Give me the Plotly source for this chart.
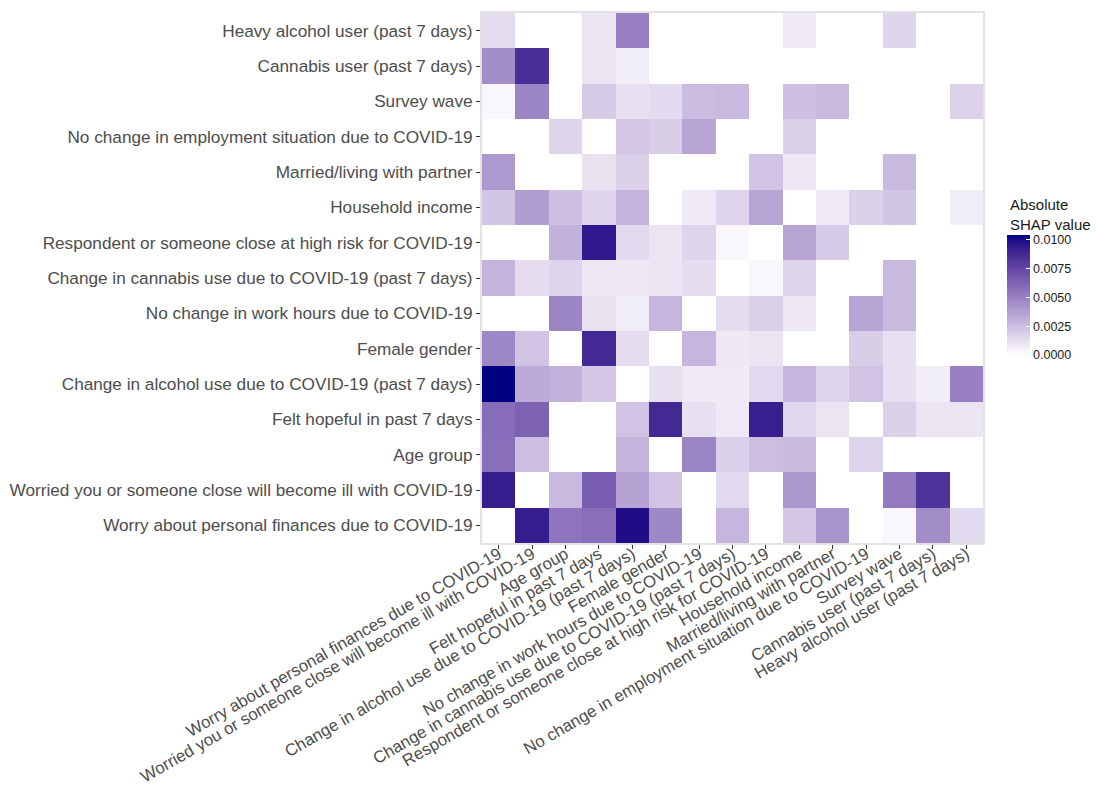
import plotly.graph_objects as go

# Feature names (same order on both axes; y runs bottom -> top)
features = [
    "Worry about personal finances due to COVID-19",
    "Worried you or someone close will become ill with COVID-19",
    "Age group",
    "Felt hopeful in past 7 days",
    "Change in alcohol use due to COVID-19 (past 7 days)",
    "Female gender",
    "No change in work hours due to COVID-19",
    "Change in cannabis use due to COVID-19 (past 7 days)",
    "Respondent or someone close at high risk for COVID-19",
    "Household income",
    "Married/living with partner",
    "No change in employment situation due to COVID-19",
    "Survey wave",
    "Cannabis user (past 7 days)",
    "Heavy alcohol user (past 7 days)",
]

# Absolute SHAP interaction values, one row per y-feature (same order as features)
shap_finances = [0, .0093, .0055, .0057, .0099, .0047, 0, .0028, 0, .0021, .0042, 0, .0003, .0045, .0014]
shap_worried_ill = [.0093, 0, .0027, .0065, .0036, .0023, 0, .0014, 0, .0041, 0, 0, .0052, .0083, 0]
shap_age = [.0057, .0025, 0, 0, .0029, 0, .0048, .0018, .0025, .0027, 0, .0016, 0, 0, 0]
shap_hopeful = [.0058, .0063, 0, 0, .0023, .0088, .0012, .0008, .0092, .0015, .0010, 0, .0018, .0010, .0010]
shap_alcohol_change = [.0104, .0033, .0030, .0021, 0, .0012, .0008, .0008, .0014, .0028, .0016, .0023, .0012, .0007, .0050]
shap_female = [.0047, .0023, 0, .0088, .0013, 0, .0028, .0009, .0010, 0, 0, .0019, .0012, 0, 0]
shap_work_hours = [0, 0, .0048, .0011, .0007, .0028, 0, .0013, .0018, .0009, 0, .0035, .0027, 0, 0]
shap_cannabis_change = [.0029, .0013, .0016, .0009, .0009, .0010, .0013, 0, .0003, .0016, 0, 0, .0027, 0, 0]
shap_high_risk = [0, 0, .0030, .0095, .0014, .0010, .0016, .0003, 0, .0035, .0020, 0, 0, 0, 0]
shap_income = [.0022, .0038, .0024, .0016, .0029, 0, .0008, .0016, .0035, 0, .0008, .0018, .0022, 0, .0007]
shap_married = [.0040, 0, 0, .0011, .0018, 0, 0, 0, .0023, .0009, 0, 0, .0027, 0, 0]
shap_employment = [0, 0, .0016, 0, .0021, .0019, .0035, 0, 0, .0018, 0, 0, 0, 0, 0]
shap_wave = [.0003, .0048, 0, .0020, .0012, .0014, .0026, .0027, 0, .0024, .0027, 0, 0, 0, .0017]
shap_cannabis_user = [.0045, .0085, 0, .0010, .0007, 0, 0, 0, 0, 0, 0, 0, 0, 0, 0]
shap_heavy_alcohol = [.0013, 0, 0, .0010, .0050, 0, 0, 0, 0, .0008, 0, 0, .0016, 0, 0]

z = [
    shap_finances, shap_worried_ill, shap_age, shap_hopeful, shap_alcohol_change,
    shap_female, shap_work_hours, shap_cannabis_change, shap_high_risk, shap_income,
    shap_married, shap_employment, shap_wave, shap_cannabis_user, shap_heavy_alcohol,
]

colorbar_ticks = [0, 0.0025, 0.005, 0.0075, 0.01]


# White -> navy gradient interpolated in CIE Lab space
def _srgb_to_lin(c):
    c = c / 255.0
    return c / 12.92 if c <= 0.04045 else ((c + 0.055) / 1.055) ** 2.4


def _lin_to_srgb(c):
    c = max(0.0, min(1.0, c))
    v = 12.92 * c if c <= 0.0031308 else 1.055 * c ** (1 / 2.4) - 0.055
    return round(v * 255)


WHITE_REF = (0.95047, 1.0, 1.08883)


def rgb_to_lab(rgb):
    r, g, b = (_srgb_to_lin(v) for v in rgb)
    x = 0.4124 * r + 0.3576 * g + 0.1805 * b
    y = 0.2126 * r + 0.7152 * g + 0.0722 * b
    zz = 0.0193 * r + 0.1192 * g + 0.9505 * b

    def f(t):
        return t ** (1 / 3) if t > 0.008856 else 7.787 * t + 16 / 116

    fx, fy, fz = f(x / WHITE_REF[0]), f(y / WHITE_REF[1]), f(zz / WHITE_REF[2])
    return (116 * fy - 16, 500 * (fx - fy), 200 * (fy - fz))


def lab_to_rgb(lab):
    L, a, b = lab
    fy = (L + 16) / 116
    fx = fy + a / 500
    fz = fy - b / 200

    def finv(t):
        return t ** 3 if t ** 3 > 0.008856 else (t - 16 / 116) / 7.787

    x, y, zz = WHITE_REF[0] * finv(fx), WHITE_REF[1] * finv(fy), WHITE_REF[2] * finv(fz)
    r = 3.2406 * x - 1.5372 * y - 0.4986 * zz
    g = -0.9689 * x + 1.8758 * y + 0.0415 * zz
    bl = 0.0557 * x - 0.2040 * y + 1.0570 * zz
    return tuple(_lin_to_srgb(v) for v in (r, g, bl))


lab_lo = rgb_to_lab((255, 255, 255))
lab_hi = rgb_to_lab((0, 0, 128))
n_stops = 21
colorscale = []
for i in range(n_stops):
    t = i / (n_stops - 1)
    lab = tuple(lo + (hi - lo) * t for lo, hi in zip(lab_lo, lab_hi))
    r, g, b = lab_to_rgb(lab)
    colorscale.append([t, f"rgb({r},{g},{b})"])

FONT = "Liberation Sans, Arial, Helvetica, sans-serif"
TEXT = "#4d4d4d"

fig = go.Figure(
    go.Heatmap(
        x=features,
        y=features,
        z=z,
        zmin=0,
        zmax=max(max(row) for row in z),
        colorscale=colorscale,
        xgap=0,
        ygap=0,
        colorbar=dict(
            xref="container",
            yref="paper",
            x=1007 / 1096,
            xanchor="left",
            y=(543 - 295) / 530,
            yanchor="middle",
            lenmode="pixels",
            len=120,
            thickness=23,
            outlinewidth=0,
            xpad=0,
            ypad=0,
            tickvals=colorbar_ticks,
            ticktext=[f"{v:.4f}" for v in colorbar_ticks],
            ticks="inside",
            ticklen=4,
            tickcolor="#ffffff",
            tickfont=dict(family=FONT, size=12.5, color="#1a1a1a"),
        ),
    )
)

axis_common = dict(
    type="category",
    showgrid=False,
    zeroline=False,
    showline=True,
    mirror=True,
    linecolor="#e3e3e3",
    linewidth=2,
    ticks="outside",
    ticklen=4,
    tickwidth=1,
    tickcolor="#333333",
    tickfont=dict(family=FONT, size=17.2, color=TEXT),
    automargin=False,
)

fig.update_layout(
    width=1096,
    height=787,
    margin=dict(l=482, r=113, t=13, b=244),
    paper_bgcolor="#ffffff",
    plot_bgcolor="#ffffff",
    xaxis=dict(axis_common, tickangle=-30, ticklabelstandoff=-11,
               tickfont=dict(family=FONT, size=16.8, color=TEXT),
               categoryorder="array", categoryarray=features),
    yaxis=dict(axis_common, categoryorder="array", categoryarray=features),
    annotations=[
        dict(
            text="Absolute<br>SHAP value",
            xref="paper",
            yref="paper",
            x=(1008 - 482) / 501,
            y=(543 - 194) / 530,
            xanchor="left",
            yanchor="top",
            align="left",
            showarrow=False,
            font=dict(family=FONT, size=15, color="#1a1a1a"),
        )
    ],
)

fig.write_html("out.html")
